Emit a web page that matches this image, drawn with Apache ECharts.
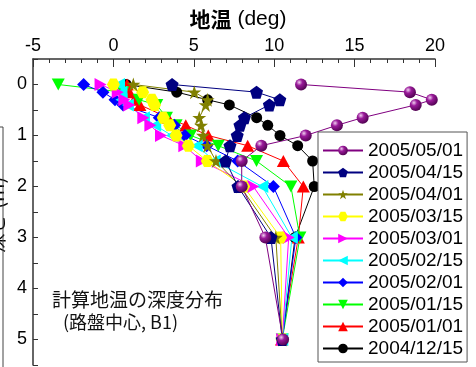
<!DOCTYPE html>
<html>
<head>
<meta charset="utf-8">
<script src="https://cdn.jsdelivr.net/npm/echarts@6/dist/echarts.min.js"></script>
<style>
  html, body { margin: 0; padding: 0; background: #fff; }
  #chart { width: 476px; height: 367px; }
</style>
</head>
<body>
<div id="chart"></div>
<script>
// Depth below the roadbed surface (m)
const depths = [0, 0.15, 0.3, 0.4, 0.65, 0.8, 1.0, 1.2, 1.5, 2, 3, 5];

// Computed ground temperature (deg) at each depth, one profile per date
const t20041215 = [0.8, 3.94, 5.86, 7.21, 8.91, 9.6, 10.36, 11.46, 12.39, 12.49, 11.3, 10.5];
const t20050101 = [0.85, 1.0, 1.3, 1.65, 3.4, 4.5, 5.9, 8.35, 10.57, 11.81, 11.5, 10.45];
const t20050115 = [-3.43, 0.6, 1.6, 2.7, 3.3, 3.9, 4.8, 6.52, 8.9, 11.04, 11.6, 10.5];
const t20050201 = [-1.85, -0.65, 0.1, 0.6, 2.85, 3.8, 4.45, 5.8, 7.73, 9.95, 11.35, 10.5];
const t20050215 = [0.35, 0.5, 0.5, 0.9, 1.9, 2.6, 3.63, 5.18, 6.3, 9.26, 11.1, 10.5];
const t20050301 = [-0.8, 0.27, 0.68, 0.99, 1.86, 2.3, 2.96, 4.41, 5.5, 8.7, 10.9, 10.5];
const t20050315 = [0.0, 1.82, 2.4, 2.56, 3.1, 3.5, 3.9, 4.66, 5.84, 8.1, 10.4, 10.5];
const t20050401 = [1.24, 5.03, 5.86, 5.74, 5.34, 5.45, 5.57, 5.85, 6.38, 7.9, 10.1, 10.5];
const t20050415 = [3.65, 8.9, 10.35, 9.7, 8.15, 7.87, 7.7, 7.25, 6.98, 7.75, 9.8, 10.5];
const t20050501 = [11.67, 18.44, 19.8, 18.8, 15.5, 13.9, 11.96, 9.2, 7.98, 7.98, 9.45, 10.55];

// Legend order (newest first)
const legendDates = ['2005/05/01', '2005/04/15', '2005/04/01', '2005/03/15', '2005/03/01',
                     '2005/02/15', '2005/02/01', '2005/01/15', '2005/01/01', '2004/12/15'];

const PENTAGON = 'path://M5,0 L10,3.8 L8.1,10 L1.9,10 L0,3.8 Z';
const STAR = 'path://M5,0 L6.18,3.62 L10,3.62 L6.91,5.86 L8.09,9.5 L5,7.26 L1.91,9.5 L3.09,5.86 L0,3.62 L3.82,3.62 Z';
const HEXAGON = 'path://M2.5,0 L7.5,0 L10,4.33 L7.5,8.66 L2.5,8.66 L0,4.33 Z';
const TRI_RIGHT = 'path://M0,0 L10,5 L0,10 Z';
const TRI_LEFT = 'path://M10,0 L0,5 L10,10 Z';
const TRI_DOWN = 'path://M0,0 L10,0 L5,8.66 Z';

const ball = new echarts.graphic.RadialGradient(0.35, 0.32, 0.75, [
  { offset: 0, color: '#f0d0f0' },
  { offset: 0.35, color: '#9a1a9a' },
  { offset: 1, color: '#4a004a' }
]);

// drawn oldest first so the newest profile sits on top
const profiles = [
  { name: '2004/12/15', temps: t20041215, color: '#000000', symbol: 'circle', size: 11 },
  { name: '2005/01/01', temps: t20050101, color: '#ff0000', symbol: 'triangle', size: [13, 12] },
  { name: '2005/01/15', temps: t20050115, color: '#00ff00', symbol: TRI_DOWN, size: [13, 12] },
  { name: '2005/02/01', temps: t20050201, color: '#0000ff', symbol: 'diamond', size: 13 },
  { name: '2005/02/15', temps: t20050215, color: '#00ffff', symbol: TRI_LEFT, size: [12, 13] },
  { name: '2005/03/01', temps: t20050301, color: '#ff00ff', symbol: TRI_RIGHT, size: [12, 13] },
  { name: '2005/03/15', temps: t20050315, color: '#ffff00', symbol: HEXAGON, size: [13, 12] },
  { name: '2005/04/01', temps: t20050401, color: '#808000', symbol: STAR, size: 14 },
  { name: '2005/04/15', temps: t20050415, color: '#000080', symbol: PENTAGON, size: 13 },
  { name: '2005/05/01', temps: t20050501, color: '#800080', symbol: 'circle', size: 12, fill: ball }
];

const series = profiles.map(p => ({
  name: p.name,
  type: 'line',
  data: p.temps.map((t, i) => [t, depths[i]]),
  symbol: p.symbol,
  symbolSize: p.size,
  showAllSymbol: true,
  lineStyle: { color: p.color, width: 1 },
  itemStyle: { color: p.fill || p.color, borderWidth: 0 },
  emphasis: { disabled: true },
  animation: false
}));

const chart = echarts.init(document.getElementById('chart'), null, { renderer: 'canvas' });

chart.setOption({
  backgroundColor: '#ffffff',
  animation: false,
  textStyle: { fontFamily: 'Liberation Sans, Arial, Noto Sans CJK JP' },
  grid: { left: 33, top: 59, right: 41, bottom: 2 },
  xAxis: {
    type: 'value',
    position: 'top',
    min: -5,
    max: 20,
    interval: 5,
    axisLine: { show: true, onZero: false, lineStyle: { color: '#333', width: 1.5 } },
    axisTick: { show: true, inside: true, length: 8, lineStyle: { color: '#333', width: 1 } },
    minorTick: { show: true, splitNumber: 5, length: 4, lineStyle: { color: '#333', width: 1 } },
    splitLine: { show: false },
    axisLabel: { fontSize: 18, color: '#000', margin: 4 }
  },
  yAxis: {
    type: 'value',
    inverse: true,
    min: -0.5,
    max: 5.5,
    interval: 0.5,
    axisLine: { show: true, onZero: false, lineStyle: { color: '#333', width: 1.5 } },
    axisTick: { show: true, inside: true, length: 5, lineStyle: { color: '#333', width: 1 } },
    splitLine: { show: false },
    axisLabel: {
      fontSize: 18, color: '#000', margin: 6,
      formatter: v => (Math.abs(v - Math.round(v)) < 1e-9 ? String(Math.round(v)) : '')
    }
  },
  legend: {
    orient: 'vertical',
    left: 318,
    top: 132,
    height: 235,
    data: legendDates,
    itemWidth: 40,
    itemHeight: 12,
    itemGap: 3,
    padding: [9, 4, 4, 4],
    borderColor: '#555',
    borderWidth: 1,
    backgroundColor: '#ffffff',
    textStyle: { fontSize: 19, lineHeight: 19, color: '#000', fontFamily: 'Liberation Sans, Arial' }
  },
  graphic: [
    {
      type: 'text',
      left: 'center',
      top: 9,
      style: {
        text: '{a|地温} (deg)',
        font: '21px Liberation Sans, Arial',
        fill: '#000',
        rich: {
          a: { fontFamily: 'Noto Sans CJK JP', fontWeight: 'bold', fontSize: 21 }
        }
      }
    },
    {
      type: 'text',
      x: 52, y: 300,
      style: {
        text: '計算地温の深度分布',
        font: '19px Noto Sans CJK JP',
        fill: '#111',
        verticalAlign: 'middle'
      }
    },
    {
      type: 'text',
      x: 63, y: 322,
      style: {
        text: '(路盤中心, B1)',
        font: '18px Noto Sans CJK JP',
        fill: '#111',
        verticalAlign: 'middle'
      }
    },
    {
      type: 'text',
      x: -4, y: 215,
      rotation: Math.PI / 2,
      style: {
        text: '深さ (m)',
        font: '20px Noto Sans CJK JP',
        fill: '#000',
        align: 'center',
        verticalAlign: 'middle'
      }
    },
    {
      type: 'polyline',
      shape: { points: [[0, 127], [3, 127], [3, 367]] },
      style: { stroke: '#444', lineWidth: 1, fill: null }
    }
  ],
  series: series
});
</script>
</body>
</html>
